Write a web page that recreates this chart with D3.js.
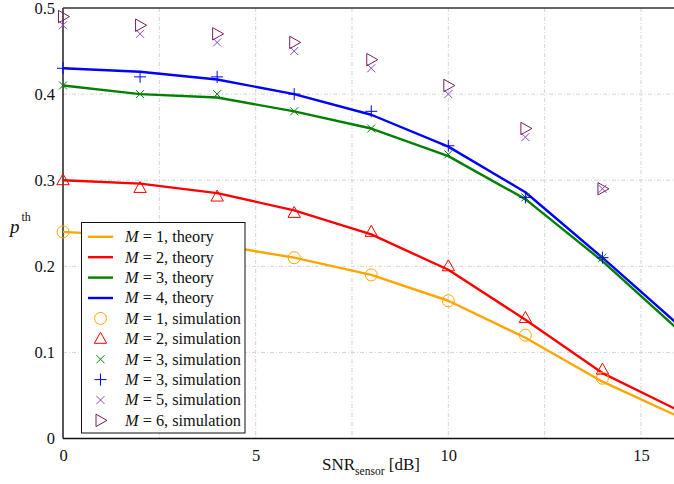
<!DOCTYPE html>
<html><head><meta charset="utf-8">
<script src="https://cdn.jsdelivr.net/npm/d3@7"></script>
<style>
html,body{margin:0;padding:0;background:#fff;}
svg{display:block;font-family:"Liberation Serif","DejaVu Serif",serif;}
svg text{font-family:"Liberation Serif","DejaVu Serif",serif !important;}
</style></head>
<body><div id="chart"></div>
<script>
// ---- data ----
const theoryX = [0, 2, 4, 6, 8, 10, 12, 14, 16];
const theoryM1 = [0.24, 0.235, 0.225, 0.21, 0.19, 0.16, 0.117, 0.066, 0.025];
const theoryM2 = [0.30, 0.296, 0.285, 0.265, 0.237, 0.196, 0.138, 0.076, 0.032];
const theoryM3 = [0.41, 0.40, 0.396, 0.38, 0.36, 0.328, 0.278, 0.206, 0.125];
const theoryM4 = [0.43, 0.426, 0.417, 0.40, 0.376, 0.339, 0.286, 0.21, 0.131];

const simX = [0, 2, 4, 6, 8, 10, 12, 14];
const simM1 = [0.24, 0.235, 0.225, 0.21, 0.19, 0.16, 0.12, 0.07];
const simM2 = [0.30, 0.291, 0.281, 0.262, 0.24, 0.20, 0.14, 0.08];
const simM3 = [0.41, 0.40, 0.40, 0.38, 0.36, 0.33, 0.28, 0.21];
const simM3b = [0.43, 0.42, 0.42, 0.40, 0.38, 0.34, 0.28, 0.21];
const simM5 = [0.48, 0.47, 0.46, 0.45, 0.43, 0.40, 0.35, 0.29];
const simM6 = [0.49, 0.48, 0.47, 0.46, 0.44, 0.41, 0.36, 0.29];

const xTicks = [0, 5, 10, 15];
const yTicks = [0, 0.1, 0.2, 0.3, 0.4, 0.5];
const xGrid = [0, 2.5, 5, 7.5, 10, 12.5, 15];
const yGrid = [0.1, 0.2, 0.3, 0.4];

const theoryNames = ["1", "2", "3", "4"];
const simNames = ["1", "2", "3", "3", "5", "6"];

// ---- setup ----
const W = 674, H = 484;
const x0 = 63, x1 = 679.5, yTop = 8, yBot = 438.5;
const x = d3.scaleLinear().domain([0, 16]).range([x0, x1]);
const y = d3.scaleLinear().domain([0, 0.5]).range([yBot, yTop]);
const SERIF = '"Liberation Serif","DejaVu Serif",serif';

const svg = d3.select("#chart").append("svg").attr("width", W).attr("height", H);

// grid
const grid = svg.append("g").attr("stroke", "#d4d4d4").attr("stroke-width", 1)
  .attr("stroke-dasharray", "4,2,1,2").attr("fill", "none");
xGrid.filter(d => d > 0).forEach(d => {
  grid.append("line").attr("x1", x(d)).attr("x2", x(d)).attr("y1", yTop).attr("y2", yBot);
});
yGrid.forEach(d => {
  grid.append("line").attr("x1", x0).attr("x2", W).attr("y1", y(d)).attr("y2", y(d));
});

// axes
const xAxis = d3.axisBottom(x).tickValues(xTicks).tickSize(0).tickPadding(8).tickFormat(d3.format("d"));
const yAxis = d3.axisLeft(y).tickValues(yTicks).tickSize(0).tickPadding(8).tickFormat(d => d === 0 ? "0" : d3.format(".1f")(d));
const gx = svg.append("g").attr("transform", `translate(0,${yBot})`).call(xAxis);
const gy = svg.append("g").attr("transform", `translate(${x0},0)`).call(yAxis);
[gx, gy].forEach(g => {
  g.attr("font-family", null).attr("font-size", null);
  g.select(".domain").remove();
  g.selectAll("text").style("font-family", SERIF).style("font-size", "16.5px").attr("fill", "#111");
});
gx.selectAll("text").attr("dy", "0.9em");

// frame lines
svg.append("line").attr("x1", x0).attr("x2", W).attr("y1", yBot).attr("y2", yBot).attr("stroke", "#111").attr("stroke-width", 1.4);
svg.append("line").attr("x1", x0).attr("x2", x0).attr("y1", yTop).attr("y2", yBot).attr("stroke", "#111").attr("stroke-width", 1.4);
svg.append("line").attr("x1", x0).attr("x2", W).attr("y1", yTop).attr("y2", yTop).attr("stroke", "#333").attr("stroke-width", 1.4);

// clip for lines
svg.append("clipPath").attr("id", "clip").append("rect")
  .attr("x", x0).attr("y", yTop).attr("width", x1 - x0).attr("height", yBot - yTop);

const colors = {orange: "#ffa500", red: "#ff0000", green: "#008000", blue: "#0000ff", violet: "#8f45cc", plum: "#7a1c5c"};
const theorySeries = [
  {vals: theoryM1, color: colors.orange},
  {vals: theoryM2, color: colors.red},
  {vals: theoryM3, color: colors.green},
  {vals: theoryM4, color: colors.blue}
];
const line = d3.line().x(d => x(d[0])).y(d => y(d[1]));
const lg = svg.append("g").attr("clip-path", "url(#clip)");
theorySeries.forEach(s => {
  lg.append("path").datum(theoryX.map((xv, i) => [xv, s.vals[i]]))
    .attr("d", line).attr("fill", "none").attr("stroke", s.color).attr("stroke-width", 2.4)
    .attr("stroke-linejoin", "round");
});

// marker shapes
function drawMarker(g, type, cx, cy, color) {
  const m = g.append("g").attr("transform", `translate(${cx},${cy})`)
    .attr("fill", "none").attr("stroke", color).attr("stroke-width", 1);
  if (type === "circle") m.append("circle").attr("r", 6);
  else if (type === "triUp") m.append("path").attr("d", "M0,-6.5L6.2,4.5L-6.2,4.5Z");
  else if (type === "triRight") m.append("path").attr("d", "M6.5,0L-4.5,-6.2L-4.5,6.2Z");
  else if (type === "cross") m.append("path").attr("d", "M-4,-4L4,4M-4,4L4,-4");
  else if (type === "plus") m.append("path").attr("d", "M-6,0L6,0M0,-6L0,6");
}

const simSeries = [
  {vals: simM1, type: "circle", color: colors.orange},
  {vals: simM2, type: "triUp", color: colors.red},
  {vals: simM3, type: "cross", color: colors.green},
  {vals: simM3b, type: "plus", color: colors.blue},
  {vals: simM5, type: "cross", color: colors.violet},
  {vals: simM6, type: "triRight", color: colors.plum}
];
const mg = svg.append("g");
simSeries.forEach(s => {
  simX.forEach((xv, i) => drawMarker(mg, s.type, x(xv), y(s.vals[i]), s.color));
});

// axis labels
const xl = svg.append("text").attr("x", 322).attr("y", 470).style("font-size", "17px").attr("fill", "#111");
xl.append("tspan").text("SNR");
xl.append("tspan").style("font-size", "11.5px").attr("dy", 5).text("sensor");
xl.append("tspan").attr("dy", -5).text(" [dB]");

const yl = svg.append("text").attr("x", 10).attr("y", 233).style("font-size", "19px").attr("fill", "#111");
yl.append("tspan").attr("font-style", "italic").text("p");
yl.append("tspan").style("font-size", "12px").attr("dy", -12).attr("dx", 2).text("th");

// legend
const legX = 81.5, legY = 222.5, legW = 163.5, legH = 210.5;
const leg = svg.append("g");
leg.append("rect").attr("x", legX).attr("y", legY).attr("width", legW).attr("height", legH)
  .attr("fill", "#fff").attr("stroke", "#111").attr("stroke-width", 1);
const rowY0 = 236.8, rowDy = 20.4;
theorySeries.forEach((s, i) => {
  const ry = rowY0 + i * rowDy;
  leg.append("line").attr("x1", 88).attr("x2", 113).attr("y1", ry).attr("y2", ry)
    .attr("stroke", s.color).attr("stroke-width", 2.4);
  const t = leg.append("text").attr("x", 125).attr("y", ry).attr("dy", "0.33em").style("font-size", "16.3px").attr("fill", "#111");
  t.append("tspan").attr("font-style", "italic").text("M");
  t.append("tspan").text(" = " + theoryNames[i] + ", theory");
});
simSeries.forEach((s, i) => {
  const ry = rowY0 + (i + 4) * rowDy;
  drawMarker(leg, s.type, 100.5, ry, s.color);
  const t = leg.append("text").attr("x", 125).attr("y", ry).attr("dy", "0.33em").style("font-size", "16.3px").attr("fill", "#111");
  t.append("tspan").attr("font-style", "italic").text("M");
  t.append("tspan").text(" = " + simNames[i] + ", simulation");
});
</script>
</body></html>
